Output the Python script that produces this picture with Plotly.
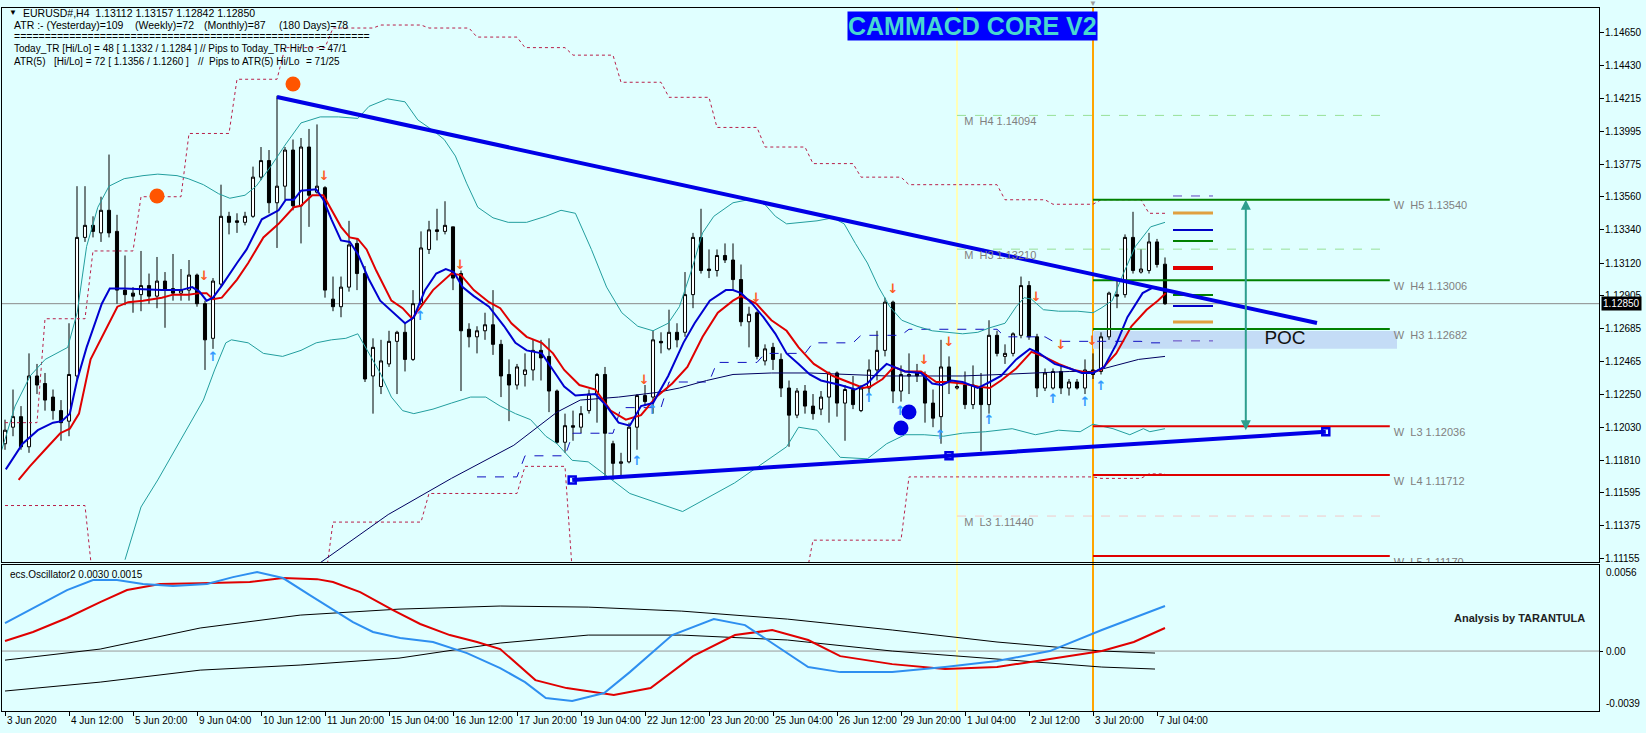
import plotly.graph_objects as go
from plotly.subplots import make_subplots

FONT = "Liberation Sans"
BG = "#E0FFFF"

# ---------------- data: H4 candles (bar index 0 = 3 Jun 2020 04:00) ----------------
bar_index = list(range(146))
open_ = [1.1192,1.1203,1.1210,1.1190,1.1237,1.1232,1.1223,1.1214,1.1207,1.1237,
         1.1329,1.1337,1.1332,1.1347,1.1333,1.1294,1.1292,1.1291,1.1297,1.1290,
         1.1300,1.1295,1.1292,1.1294,1.1304,1.1285,1.1262,1.1298,1.1343,1.1340,
         1.1339,1.1343,1.1369,1.1380,1.1352,1.1363,1.1387,1.1350,1.1389,1.1359,
         1.1362,1.1288,1.1283,1.1296,1.1325,1.1305,1.1237,1.1230,1.1245,1.1260,
         1.1266,1.1248,1.1285,1.1321,1.1334,1.1333,1.1336,1.1305,1.1268,1.1263,
         1.1267,1.1271,1.1258,1.1238,1.1231,1.1238,1.1241,1.1254,1.1250,1.1227,
         1.1193,1.1204,1.1203,1.1214,1.1225,1.1238,1.1192,1.1179,1.1180,1.1203,
         1.1224,1.1223,1.1260,1.1255,1.1266,1.1266,1.1291,1.1329,1.1308,1.1307,
         1.1317,1.1314,1.1301,1.1273,1.1279,1.1247,1.1256,1.1248,1.1229,1.1211,
         1.1227,1.1217,1.1215,1.1223,1.1239,1.1219,1.1228,1.1214,1.1229,1.1241,
         1.1254,1.1286,1.1227,1.1237,1.1239,1.1238,1.1219,1.1210,1.1243,1.1229,
         1.1231,1.1218,1.1229,1.1218,1.1264,1.1250,1.1252,1.1264,1.1297,1.1263,
         1.1229,1.1229,1.1240,1.1229,1.1233,1.1229,1.1241,1.1240,1.1263,1.1291,
         1.1291,1.1329,1.1306,1.1307,1.1326,1.13112]
high = [1.1208,1.1228,1.1217,1.1252,1.1245,1.1239,1.1228,1.1221,1.1272,1.1363,
        1.1363,1.1343,1.1356,1.1384,1.1344,1.1317,1.1296,1.1320,1.1305,1.1316,
        1.1306,1.1318,1.1308,1.1314,1.1305,1.1287,1.1302,1.1364,1.1346,1.1345,
        1.1346,1.1376,1.1389,1.1387,1.1423,1.1389,1.1394,1.1395,1.1401,1.1404,
        1.1363,1.1303,1.1303,1.1340,1.1328,1.1310,1.1262,1.1261,1.1267,1.1267,
        1.1272,1.1294,1.1333,1.1340,1.1348,1.1353,1.1336,1.1307,1.1272,1.1270,
        1.1279,1.1294,1.1261,1.1248,1.1245,1.1252,1.1261,1.1261,1.1262,1.1228,
        1.1212,1.1214,1.1217,1.1228,1.1239,1.1243,1.1194,1.1186,1.1206,1.1225,
        1.1231,1.1267,1.1266,1.1281,1.1272,1.1306,1.1332,1.1348,1.1321,1.1321,
        1.1325,1.1325,1.1311,1.1283,1.1280,1.1258,1.1259,1.1252,1.1234,1.1229,
        1.1231,1.1225,1.1227,1.1240,1.1240,1.1231,1.1237,1.1231,1.1248,1.1267,
        1.1289,1.1287,1.1244,1.1252,1.1245,1.1240,1.1228,1.1261,1.1250,1.1233,
        1.1240,1.1244,1.1239,1.1274,1.1267,1.1258,1.1266,1.1303,1.1300,1.1265,
        1.1242,1.1242,1.1244,1.1235,1.1235,1.1248,1.1252,1.1266,1.1293,1.1301,
        1.1331,1.1346,1.1321,1.1332,1.1328,1.13157]
low = [1.1188,1.1197,1.1188,1.1186,1.1225,1.1214,1.1208,1.1194,1.1197,1.1234,
       1.1326,1.1329,1.1326,1.1329,1.1285,1.1284,1.1279,1.1280,1.1285,1.1282,
       1.1269,1.1287,1.1287,1.1287,1.1283,1.1241,1.1255,1.1296,1.1331,1.1332,
       1.1337,1.1342,1.1367,1.1345,1.1322,1.1354,1.1347,1.1325,1.1336,1.1358,
       1.1289,1.1280,1.1276,1.1293,1.1294,1.1233,1.1212,1.1225,1.1243,1.1225,
       1.1240,1.1247,1.1284,1.1318,1.1327,1.1331,1.1294,1.1227,1.1256,1.1252,
       1.1261,1.1251,1.1223,1.1207,1.1228,1.1230,1.1234,1.1234,1.1213,1.1192,
       1.1186,1.1194,1.1199,1.1212,1.1206,1.1170,1.1168,1.1170,1.1179,1.1188,
       1.1217,1.1212,1.1252,1.1254,1.1256,1.1263,1.1282,1.1305,1.1302,1.1303,
       1.1312,1.1294,1.1270,1.1256,1.1248,1.1244,1.1241,1.1223,1.1190,1.1209,
       1.1212,1.1208,1.1211,1.1206,1.1210,1.1194,1.1215,1.1213,1.1225,1.1234,
       1.1250,1.1219,1.1220,1.1225,1.1233,1.1206,1.1203,1.1192,1.1225,1.1228,
       1.1215,1.1215,1.1187,1.1212,1.1250,1.1245,1.1250,1.1262,1.1261,1.1223,
       1.1227,1.1228,1.1225,1.1224,1.1228,1.1225,1.1235,1.1238,1.1261,1.1282,
       1.1289,1.1305,1.1305,1.1305,1.1309,1.12842]
close = [1.1201,1.1210,1.1190,1.1237,1.1231,1.1221,1.1214,1.1206,1.1238,1.1329,
         1.1337,1.1333,1.1347,1.1332,1.1294,1.1291,1.1290,1.1297,1.1290,1.1300,
         1.1294,1.1292,1.1294,1.1304,1.1285,1.1261,1.1300,1.1343,1.1339,1.1339,
         1.1343,1.1369,1.1380,1.1352,1.1363,1.1387,1.1350,1.1389,1.1357,1.1363,
         1.1294,1.1283,1.1296,1.1324,1.1305,1.1235,1.1256,1.1247,1.1260,1.1266,
         1.1248,1.1285,1.1322,1.1334,1.1333,1.1337,1.1302,1.1267,1.1263,1.1267,
         1.1271,1.1258,1.1237,1.1231,1.1243,1.1241,1.1254,1.1249,1.1227,1.1193,
         1.1204,1.1203,1.1212,1.1225,1.1238,1.1199,1.1179,1.1180,1.1203,1.1224,
         1.1220,1.1261,1.1259,1.1266,1.1261,1.1291,1.1329,1.1307,1.1307,1.1317,
         1.1314,1.1301,1.1273,1.1278,1.1250,1.1255,1.1248,1.1229,1.1211,1.1227,
         1.1217,1.1212,1.1223,1.1239,1.1219,1.1228,1.1218,1.1229,1.1241,1.1254,
         1.1286,1.1227,1.1238,1.1238,1.1237,1.1219,1.1209,1.1243,1.1233,1.1230,
         1.1218,1.1231,1.1218,1.1264,1.1252,1.1252,1.1265,1.1297,1.1263,1.1229,
         1.1239,1.1240,1.1229,1.1233,1.1229,1.1241,1.1238,1.1263,1.1292,1.1290,
         1.1329,1.1307,1.1308,1.1326,1.1311,1.12850]

tick_bars = list(range(0, 145, 8))
tick_labels = ["3 Jun 2020", "4 Jun 12:00", "5 Jun 20:00", "9 Jun 04:00", "10 Jun 12:00",
               "11 Jun 20:00", "15 Jun 04:00", "16 Jun 12:00", "17 Jun 20:00", "19 Jun 04:00",
               "22 Jun 12:00", "23 Jun 20:00", "25 Jun 04:00", "26 Jun 12:00", "29 Jun 20:00",
               "1 Jul 04:00", "2 Jul 12:00", "3 Jul 20:00", "7 Jul 04:00"]
price_ticks = [1.14650, 1.14430, 1.14215, 1.13995, 1.13775, 1.13560, 1.13340, 1.13120, 1.12905,
               1.12685, 1.12465, 1.12250, 1.12030, 1.11810, 1.11595, 1.11375, 1.11155]
last_price = 1.12850
osc_tick_labels = ["0.0056", "0.00", "-0.0039"]

# ---------------- indicator lines ----------------
fast_x = [0.1,2.2,4.1,6,7.1,8.1,9,10.2,12.1,13.1,14.9,18.2,19.6,22,23.4,24.3,25.2,26,27.1,29,
          30.2,32.1,34.2,35.1,36.1,37,38.9,39.8,40.8,42,43.1,44.1,45.5,46.9,48.3,50,51.1,52.5,53.9,55.1,
          56.1,57.2,58.6,60.5,62.4,63.8,65.2,67.1,68.5,69.9,71.3,
          73.8,75.2,76.7,78.1,79.5,81,82.9,84.8,86.2,88.1,90.1,91,92,93.4,94.8,96.3,97.7,99.2,100.6,102,
          104.4,106.3,107.8,109.2,110.2,111.1,112.5,114.5,115.9,117.1,118.3,119.7,121.6,123.1,124.5,126.4,
          128.1,129.3,131.2,133.1,134.6,136,137.4,138.9,140.3,142.2,143.6,145]
fast_y = [1.1175,1.1192,1.1201,1.1206,1.1207,1.1212,1.1234,1.1256,1.1285,1.1295,1.1295,1.1294,1.1294,1.1294,
          1.1296,1.1293,1.1287,1.1289,1.1297,1.1312,1.1321,1.1341,1.1347,1.1354,1.1354,1.1360,1.1361,1.1354,
          1.1341,1.1327,1.1326,1.1318,1.1301,1.1287,1.1280,1.1272,1.1276,1.1294,1.1305,1.1308,1.1306,1.1296,
          1.1290,1.1283,1.1270,1.1259,1.1254,1.1252,1.1241,1.1230,1.1224,
          1.1225,1.1217,1.1206,1.1204,1.1217,1.1219,1.1237,1.1259,1.1272,1.1287,1.1294,1.1294,1.1292,1.1285,
          1.1276,1.1265,1.1252,1.1245,1.1238,1.1234,1.1231,1.1228,1.1232,1.1240,1.1245,1.1243,1.1240,1.1239,
          1.1232,1.1231,1.1234,1.1233,1.1229,1.1233,1.1237,1.1248,1.1255,1.1252,1.1245,1.1242,1.1239,1.1239,
          1.1243,1.1258,1.1276,1.1292,1.1296,1.1294]
slow_x = [1.7,3.1,5,6.9,8.1,9.25,10.7,12.5,14.05,15.4,17.25,19.6,21,22.9,24.3,25.2,26,27.1,29,30.4,
          32.3,34.2,36.1,37,38.4,39.8,40.8,42,43.1,44.1,45.2,46.4,48.3,49.7,50.9,52.1,53.5,55.8,57,58.6,
          60.5,61.9,63.3,65.2,67.1,68.5,69.9,71.8,
          73.8,75.7,77.6,79.5,81.4,83.4,85.3,87.2,89.1,91,92,93.9,95.8,97.7,99.2,101.1,103.5,105.4,107.3,
          108.2,109.7,111.1,112.5,114.5,116.4,117.8,119.7,121.6,123.1,124.5,126.4,128.3,129.8,131.7,133.6,
          135.5,137,138.9,140.8,142.7,144.1,145.1]
slow_y = [1.1168,1.1177,1.1188,1.1199,1.1202,1.1212,1.1248,1.1267,1.1283,1.1286,1.1287,1.1289,1.1291,1.1291,
          1.1292,1.1292,1.1288,1.1289,1.1301,1.1312,1.1329,1.1338,1.1349,1.1350,1.1357,1.1357,1.1347,1.1336,
          1.1329,1.1328,1.1321,1.1307,1.1287,1.1282,1.1275,1.1284,1.1294,1.1305,1.1304,1.1294,1.1286,1.1282,
          1.1272,1.1263,1.1259,1.1252,1.1241,1.1231,
          1.1228,1.1214,1.1208,1.1211,1.1223,1.1232,1.1243,1.1263,1.1279,1.1287,1.1290,1.1285,1.1274,1.1267,
          1.1256,1.1245,1.1237,1.1233,1.1229,1.1230,1.1235,1.1243,1.1240,1.1240,1.1233,1.1233,1.1232,1.1230,
          1.1229,1.1234,1.1242,1.1253,1.1250,1.1245,1.1241,1.1239,1.1241,1.1252,1.1270,1.1281,1.1287,1.1292]
bb_up_x = [-0.4,1.26,3.14,5.02,7.84,9.02,10.2,11.6,13,14.9,17.25,19.1,21.5,22.9,24.8,26.7,28.1,30,31.4,33.2,
           35.1,37,39.4,41.7,44.1,45.5,47.8,50,51.6,53.5,54.9,56.3,57.7,59.1,61,62.9,65.2,67.6,69.5,71.3,
           73.3,75.2,77.1,79.1,81,82.9,84.3,85.8,87.2,88.6,91,92.9,94.8,96.3,97.7,99.6,101.5,103.5,104.9,106.3,
           107.8,109.2,110.6,112.1,114,115.9,117.8,119.7,121.6,123.1,125,126.4,127.4,128.3,129.8,131.7,134.1,
           136,137,138.4,139.8,141.3,143.2,145]
bb_up_y = [1.1188,1.1217,1.1237,1.1248,1.1256,1.1279,1.1323,1.1349,1.1363,1.1368,1.1370,1.1371,1.1370,1.1368,
           1.1364,1.1358,1.1355,1.1357,1.1363,1.1376,1.1391,1.1405,1.1409,1.1409,1.1408,1.1416,1.1421,1.1419,
           1.1407,1.1400,1.1394,1.1383,1.1365,1.1349,1.1342,1.1339,1.1339,1.1343,1.1347,1.1345,1.1321,1.1296,
           1.1279,1.1270,1.1267,1.1272,1.1283,1.1307,1.1332,1.1343,1.1352,1.1354,1.1352,1.1343,1.1338,1.1339,
           1.1340,1.1342,1.1338,1.1325,1.1312,1.1296,1.1283,1.1274,1.1270,1.1267,1.1266,1.1265,1.1266,1.1269,
           1.1272,1.1283,1.1289,1.1288,1.1281,1.1280,1.1280,1.1279,1.1282,1.1287,1.1305,1.1323,1.1336,1.1339]
bb_lo_x = [15,17,19.1,21,22.9,24.8,26.2,27.6,28.3,30.4,32.3,34.7,37,38.9,40.8,42.6,44.1,45.5,46.9,48.3,49.7,
           51.1,53.5,55.8,58.2,60.1,61.9,63.8,65.7,67.6,69,70.9,72.9,78.1,84.7,91.2,97.7,99.2,101.5,104.4,107.8,
           110.2,112.5,114.9,117.3,119.7,122.6,125.9,128.8,131.7,134.4,136,136.9,138.5,140.6,142.3,143.1,145]
bb_lo_y = [1.1115,1.1150,1.1168,1.1186,1.1203,1.1221,1.1241,1.1259,1.1261,1.1259,1.1252,1.1250,1.1254,1.1259,1.1261,
           1.1262,1.1265,1.1252,1.1239,1.1223,1.1214,1.1212,1.1215,1.1219,1.1223,1.1223,1.1217,1.1212,1.1208,
           1.1197,1.1192,1.1181,1.1180,1.1159,1.1147,1.1166,1.1190,1.1203,1.1201,1.1183,1.1182,1.1192,1.1198,
           1.1198,1.1197,1.1199,1.1200,1.1202,1.1198,1.1201,1.1200,1.1205,1.1204,1.1202,1.1198,1.1202,1.1200,1.1202]
long_x = [39.4,47.9,55.8,63.6,69,71.9,76.7,81.4,84.3,87.7,91,95.8,
          100.6,105.4,110.2,114.9,119.7,124.5,129.3,133.1,136,138.9,141.7,145]
long_y = [1.1113,1.1145,1.1169,1.1191,1.1213,1.1221,1.1223,1.1226,1.1229,1.1234,1.1238,1.1239,
          1.1239,1.1238,1.1237,1.1237,1.1237,1.1238,1.1239,1.1240,1.1240,1.1244,1.1248,1.1250]

# daily step levels (first bar of each trading day)
day_start = [0,5,11,17,23,29,35,41,47,53,59,65,71,77,83,89,95,101,107,113,119,125,131,137,143]
chan_upper = [1.1206,1.1275,1.1320,1.1356,1.1398,1.1434,1.1455,1.1468,1.1470,1.1468,1.1462,1.1455,1.1450,
              1.1432,1.1422,1.1402,1.1389,1.1378,1.1369,1.1364,1.1364,1.1354,1.1351,1.1354,1.1345]
chan_lower = [1.1151,1.1151,1.1100,1.1100,1.1100,1.1100,1.1100,1.1140,1.1140,1.1159,1.1159,1.1177,1.1100,
              1.1100,1.1100,1.1100,1.1100,1.1128,1.1128,1.1170,1.1170,1.1170,1.1170,1.1169,1.1172]
blue_step = [None,None,None,None,None,None,None,None,None,None,1.1170,1.1184,1.1199,
             1.1216,1.1233,1.1246,1.1252,1.1259,1.1264,1.1268,1.1268,1.1263,1.1260,1.1260,1.1259]

# signal arrows and dots
down_arrow_x = [24.9,39.9,56.9,79.9,93.9,111,114.9,118,128.9,132,135.9]
down_arrow_y = [1.1303,1.1369,1.1310,1.1234,1.1288,1.1294,1.1247,1.1259,1.1289,1.1257,1.1260]
up_arrow_x = [26,51.9,79,80.9,108,111.9,116.9,123,131,135,137]
up_arrow_y = [1.1249,1.1276,1.1180,1.1214,1.1222,1.1213,1.1197,1.1207,1.1221,1.1219,1.1230]
orange_dot_x = [36, 19]
orange_dot_y = [1.14308, 1.13565]
blue_dot_x = [113, 112]
blue_dot_y = [1.12131, 1.12025]

# trendlines
top_trend_x = [34, 164]
top_trend_y = [1.14222, 1.12722]
bottom_trend_x = [70.9, 118, 165.1]
bottom_trend_y = [1.1168, 1.1184, 1.1200]

# pivot levels
weekly_names = ["W  H5 1.13540", "W  H4 1.13006", "W  H3 1.12682", "W  L3 1.12036", "W  L4 1.11712", "W  L5 1.11170"]
weekly_levels = [1.13540, 1.13006, 1.12682, 1.12036, 1.11712, 1.11175]
weekly_colors = ["#008000", "#008000", "#008000", "#E00000", "#E00000", "#E00000"]
monthly_names = ["M  H4 1.14094", "M  H3 1.13210", "M  L3 1.11440"]
monthly_levels = [1.14100, 1.13212, 1.11440]
monthly_colors = ["#98E098", "#98E098", "#F2C8C8"]
right_seg_levels = [1.13565, 1.13452, 1.13339, 1.13266, 1.13087, 1.12908, 1.12835, 1.12729, 1.12603]
right_seg_colors = ["#6040C0", "#E0A040", "#0000C8", "#008000", "#E00000", "#008000", "#0000C8", "#E0A040", "#6040C0"]
right_seg_widths = [1, 3, 2, 2, 4, 2, 2, 3, 1]
right_seg_dash = ["dash", "solid", "solid", "solid", "solid", "solid", "solid", "solid", "dash"]
poc_low, poc_high = 1.12550, 1.12669

# oscillator
osc_blue_x = [0,3.5,7.75,11,14,17.25,21,25.25,28.5,31.5,34.75,38.1,41,43.5,46,49.4,53.5,57.75,61.9,65,
              67.6,70.9,74.9,78.1,83.4,88.6,92.5,96.5,100.4,104.4,110.9,117.5,124,130.6,137.1,145]
osc_blue_y = [0.00182,0.00280,0.00397,0.00462,0.00462,0.00436,0.00423,0.00436,0.00481,0.00514,0.00475,
              0.00364,0.00267,0.00189,0.00124,0.00085,0.00059,-0.00013,-0.00111,-0.00202,-0.00306,-0.00325,
              -0.00273,-0.00137,0.00104,0.00208,0.00169,0.00033,-0.00104,-0.00137,-0.00137,-0.00104,-0.00065,
              0.0,0.00137,0.00293]
osc_red_x = [0,3.5,7.75,11.9,15.25,19.4,24.4,30.6,34.75,39,41,44.4,48.5,51.9,55.6,59,61.9,66.3,70.2,76.1,
             80.7,86,91.25,95.9,100.4,104.4,110.9,117.5,124,130.6,137.1,141.1,145]
osc_red_y = [0.00065,0.00124,0.00215,0.00319,0.00397,0.00436,0.00442,0.00449,0.00475,0.00468,0.00449,0.00384,
             0.00267,0.00176,0.00104,0.00059,0.00013,-0.00189,-0.00241,-0.00286,-0.00241,-0.00033,0.00104,
             0.00137,0.00072,-0.00033,-0.00085,-0.00117,-0.00104,-0.00052,0.0,0.00059,0.00150]
osc_black_x = [0,11.9,24.4,36.9,49.25,61.9,72.9,84.6,97.8,110.9,124,137.1,143.75]
osc_black1_y = [-0.00059,0.00013,0.00150,0.00234,0.00273,0.00293,0.00286,0.00260,0.00208,0.00137,0.00059,0.0,-0.00013]
osc_black2_y = [-0.00260,-0.00202,-0.00124,-0.00091,-0.00046,0.00052,0.00104,0.00104,0.00072,0.0,-0.00052,-0.00104,-0.00117]

# ---------------- figure ----------------
W, H = 1646, 733
ML, MR, MT, MB = 2, 47, 8, 22
PW, PH = W - ML - MR, H - MT - MB


def px_x(px):
    return (px - ML) / PW


def px_y(py):
    return (H - MB - py) / PH


fig = make_subplots(rows=2, cols=1, shared_xaxes=True, vertical_spacing=0.01)


def steps(levels):
    xs, ys = [], []
    for k, lv in enumerate(levels):
        end = day_start[k + 1] - 1 if k + 1 < len(day_start) else 145
        if lv is None:
            xs.append(None); ys.append(None)
            continue
        xs += [day_start[k], end]
        ys += [lv, lv]
    return xs, ys


def line(x, y, color, width=1, dash="solid", row=1):
    fig.add_trace(go.Scatter(x=x, y=y, mode="lines", line=dict(color=color, width=width, dash=dash),
                             hoverinfo="skip", showlegend=False, connectgaps=False), row=row, col=1)


# background channel lines
ux, uy = steps(chan_upper)
line(ux, uy, "#B8204A", 1, "dot")
lx, ly = steps(chan_lower)
line(lx, ly, "#B8204A", 1, "dot")
bx, by = steps(blue_step)
line(bx, by, "#1010C0", 1, "dash")
line(bb_up_x, bb_up_y, "#229E9E", 1)
line(bb_lo_x, bb_lo_y, "#229E9E", 1)
line(long_x, long_y, "#000060", 1)

# candles
fig.add_trace(go.Candlestick(x=bar_index, open=open_, high=high, low=low, close=close,
                             increasing=dict(line=dict(color="black", width=1), fillcolor="white"),
                             decreasing=dict(line=dict(color="black", width=1), fillcolor="black"),
                             whiskerwidth=0, hoverinfo="skip", showlegend=False), row=1, col=1)

line(slow_x, slow_y, "#E00000", 2)
line(fast_x, fast_y, "#0000D0", 2)

# weekly pivot lines
for lv, c in zip(weekly_levels, weekly_colors):
    line([136, 173.1], [lv, lv], c, 2)
for lv, c, w, d in zip(right_seg_levels, right_seg_colors, right_seg_widths, right_seg_dash):
    line([146, 151], [lv, lv], c, w, d)

# trendlines
line(top_trend_x, top_trend_y, "#0000E6", 4)
line(bottom_trend_x, bottom_trend_y, "#0000E6", 4)
fig.add_trace(go.Scatter(x=bottom_trend_x, y=bottom_trend_y, mode="markers",
                         marker=dict(symbol="square-open", size=7, color="#0000E6", line=dict(width=2.5, color="#0000E6")),
                         hoverinfo="skip", showlegend=False), row=1, col=1)

# dots and arrows
fig.add_trace(go.Scatter(x=orange_dot_x, y=orange_dot_y, mode="markers",
                         marker=dict(size=15, color="#FF5500"), hoverinfo="skip", showlegend=False), row=1, col=1)
fig.add_trace(go.Scatter(x=blue_dot_x, y=blue_dot_y, mode="markers",
                         marker=dict(size=15, color="#0000E6"), hoverinfo="skip", showlegend=False), row=1, col=1)
fig.add_trace(go.Scatter(x=down_arrow_x, y=down_arrow_y, mode="text", text=["<b>↓</b>"] * len(down_arrow_x),
                         textfont=dict(family="DejaVu Sans", size=13, color="#FF5A1E"),
                         hoverinfo="skip", showlegend=False), row=1, col=1)
fig.add_trace(go.Scatter(x=up_arrow_x, y=up_arrow_y, mode="text", text=["<b>↑</b>"] * len(up_arrow_x),
                         textfont=dict(family="DejaVu Sans", size=13, color="#3399FF"),
                         hoverinfo="skip", showlegend=False), row=1, col=1)

# level labels (clipped to the plot area)
fig.add_trace(go.Scatter(x=[173.6] * len(weekly_levels), y=[v - 0.00046 for v in weekly_levels], mode="text",
                         text=weekly_names, textposition="middle right",
                         textfont=dict(family=FONT, size=11, color="#808080"),
                         hoverinfo="skip", showlegend=False), row=1, col=1)
fig.add_trace(go.Scatter(x=[119.9] * len(monthly_levels), y=[v - 0.00046 for v in monthly_levels], mode="text",
                         text=monthly_names, textposition="middle right",
                         textfont=dict(family=FONT, size=11, color="#808080"),
                         hoverinfo="skip", showlegend=False), row=1, col=1)
fig.add_trace(go.Scatter(x=[160], y=[1.12615], mode="text", text=["POC"],
                         textfont=dict(family=FONT, size=19, color="#111111"),
                         hoverinfo="skip", showlegend=False), row=1, col=1)

# oscillator
line(osc_black_x, osc_black1_y, "#000000", 1, row=2)
line(osc_black_x, osc_black2_y, "#000000", 1, row=2)
line(osc_red_x, osc_red_y, "#E00000", 2, row=2)
line(osc_blue_x, osc_blue_y, "#2E8FF0", 2, row=2)

shapes = []
shapes.append(dict(type="rect", xref="x", yref="y", x0=136, x1=174, y0=poc_low, y1=poc_high,
                   fillcolor="#C4DCF6", line=dict(width=0), layer="below"))
for lv, c in zip(monthly_levels, monthly_colors):
    shapes.append(dict(type="line", xref="x", yref="y", x0=119, x1=173, y0=lv, y1=lv,
                       line=dict(color=c, width=1, dash="dash"), layer="below"))
shapes.append(dict(type="line", xref="paper", yref="y", x0=0, x1=1, y0=last_price, y1=last_price,
                   line=dict(color="#8A8A8A", width=1), layer="below"))
shapes.append(dict(type="line", xref="paper", yref="y2", x0=0, x1=1, y0=0, y1=0,
                   line=dict(color="#9A9A9A", width=1), layer="below"))
shapes.append(dict(type="line", xref="x", yref="paper", x0=119, x1=119, y0=0, y1=1,
                   line=dict(color="#FFFFB8", width=2), layer="below"))
shapes.append(dict(type="line", xref="x", yref="paper", x0=136, x1=136, y0=0, y1=1,
                   line=dict(color="#FFA500", width=2), layer="below"))

ann = []


def txt(t, px, py, size=10.5, color="#000000", anchor="left", bold=False):
    ann.append(dict(text=("<b>%s</b>" % t) if bold else t, x=px_x(px), y=px_y(py), xref="paper", yref="paper",
                    xanchor=anchor, yanchor="middle", showarrow=False,
                    font=dict(family=FONT, size=size, color=color)))


txt("▼", 7, 13, 8)
txt("EURUSD#,H4  1.13112 1.13157 1.12842 1.12850", 21, 13)
txt("ATR :- (Yesterday)=109", 12, 25)
txt("(Weekly)=72", 133, 25)
txt("(Monthly)=87", 202, 25)
txt("(180 Days)=78", 277, 25)
txt("=" * 58, 12, 36)
txt("Today_TR [Hi/Lo] = 48 [ 1.1332 / 1.1284 ]", 12, 49, 10)
txt("// Pips to Today_TR Hi/Lo  = 47/1", 198, 49, 10)
txt("ATR(5)", 12, 62, 10)
txt("[Hi/Lo] = 72 [ 1.1356 / 1.1260 ]", 52, 62, 10)
txt("//  Pips to ATR(5) Hi/Lo", 196, 62, 10)
txt("= 71/25", 304, 62, 10)
txt("ecs.Oscillator2 0.0030 0.0015", 8, 574, 10)
txt("Analysis by TARANTULA", 1587, 618, 11, "#222222", "right", True)
txt("▼", 1093, 3, 8, "#9A9A9A", "center")

# price axis labels
for v in price_ticks:
    ann.append(dict(text="%.5f" % v, x=1, xshift=4, y=v, xref="paper", yref="y", xanchor="left",
                    yanchor="middle", showarrow=False, font=dict(family=FONT, size=10, color="#000000")))
for t, py in zip(osc_tick_labels, [572, 651, 703]):
    txt(t, 1604, py, 10)

# title
ann.append(dict(text="<b>CAMMACD CORE V2</b>", x=px_x(972), y=px_y(26), xref="paper", yref="paper",
                xanchor="center", yanchor="middle", showarrow=False, bgcolor="#0000FF", borderpad=0,
                font=dict(family=FONT, size=25, color="#48D8D0")))
# last price tag
ann.append(dict(text="1.12850", x=1, xshift=2, y=last_price, xref="paper", yref="y", xanchor="left",
                yanchor="middle", showarrow=False, bgcolor="#000000", borderpad=1,
                font=dict(family=FONT, size=10, color="#FFFFFF")))
# teal range arrow
ann.append(dict(x=155.1, y=1.1354, ax=155.1, ay=1.1200, xref="x", yref="y", axref="x", ayref="y",
                text="", showarrow=True, arrowhead=2, arrowsize=1, arrowwidth=2, arrowside="end+start",
                arrowcolor="#2E9E8E"))
# date labels
for b, t in zip(tick_bars, tick_labels):
    ann.append(dict(text=t, x=b, y=px_y(720), xref="x", yref="paper", xanchor="left", yanchor="middle",
                    showarrow=False, font=dict(family=FONT, size=10, color="#000000")))

axis_common = dict(showline=True, mirror=True, linecolor="#000000", linewidth=1, showgrid=False,
                   zeroline=False, automargin=False)
fig.update_layout(
    width=W, height=H, margin=dict(l=ML, r=MR, t=MT, b=MB, autoexpand=False),
    paper_bgcolor=BG, plot_bgcolor=BG, showlegend=False, boxgap=0.45,
    shapes=shapes, annotations=ann, hovermode=False,
    xaxis=dict(range=[-0.375, 199.25], showticklabels=False, ticks="", rangeslider=dict(visible=False),
               **axis_common),
    xaxis2=dict(range=[-0.375, 199.25], tickvals=tick_bars, showticklabels=False, ticks="outside",
                ticklen=4, tickcolor="#000000", **axis_common),
    yaxis=dict(domain=[(H - MB - 562) / PH, 1], range=[1.11135, 1.14813], side="right", tickvals=price_ticks,
               showticklabels=False, ticks="outside", ticklen=4, tickcolor="#000000", **axis_common),
    yaxis2=dict(domain=[0, (H - MB - 565) / PH], range=[-0.0039, 0.0056], side="right",
                tickvals=[0.0], showticklabels=False, ticks="outside",
                ticklen=3, tickcolor="#000000", **axis_common),
)

fig.write_html("out.html", config={"displayModeBar": False},
               post_script="document.body.style.margin='0';document.body.style.overflow='hidden';")
